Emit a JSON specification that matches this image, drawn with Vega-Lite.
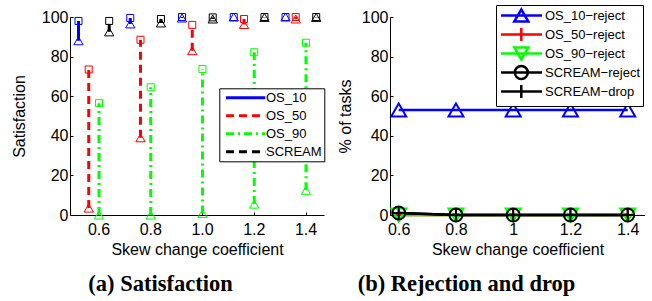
{
  "$schema": "https://vega.github.io/schema/vega-lite/v6.json",
  "background": "white",
  "padding": {"left": 11, "top": 4, "right": 0, "bottom": 0},
  "spacing": 66,
  "bounds": "flush",
  "resolve": {"scale": {"color": "independent", "shape": "independent", "strokeDash": "independent"}, "legend": {"color": "independent", "shape": "independent", "strokeDash": "independent"}},
  "config": {
    "view": {"stroke": null},
    "axis": {
      "domainColor": "black", "tickColor": "black", "labelColor": "black", "titleColor": "black",
      "labelFont": "Liberation Sans", "titleFont": "Liberation Sans",
      "labelFontSize": 16, "titleFontSize": 16, "titleFontWeight": "normal",
      "grid": false, "tickSize": -3, "labelOverlap": false
    },
    "axisX": {"labelPadding": 9, "titlePadding": 4, "labelAngle": 0},
    "axisY": {"labelPadding": 5, "titlePadding": 8}
  },
  "datasets": {
    "sat": [
      {"skew": 0.6, "series": "OS_10", "lo": 88, "hi": 98},
      {"skew": 0.6, "series": "OS_50", "lo": 3.5, "hi": 73.5},
      {"skew": 0.6, "series": "OS_90", "lo": 0, "hi": 56.5},
      {"skew": 0.6, "series": "SCREAM", "lo": 92.5, "hi": 98},
      {"skew": 0.8, "series": "OS_10", "lo": 96.5, "hi": 99.5},
      {"skew": 0.8, "series": "OS_50", "lo": 39, "hi": 88.5},
      {"skew": 0.8, "series": "OS_90", "lo": 0, "hi": 64.5},
      {"skew": 0.8, "series": "SCREAM", "lo": 97, "hi": 99},
      {"skew": 1.0, "series": "OS_10", "lo": 99.5, "hi": 100},
      {"skew": 1.0, "series": "OS_50", "lo": 83, "hi": 96},
      {"skew": 1.0, "series": "OS_90", "lo": 0.8, "hi": 73.7},
      {"skew": 1.0, "series": "SCREAM", "lo": 99, "hi": 99.8},
      {"skew": 1.2, "series": "OS_10", "lo": 100, "hi": 100},
      {"skew": 1.2, "series": "OS_50", "lo": 96.2, "hi": 99},
      {"skew": 1.2, "series": "OS_90", "lo": 5.5, "hi": 82.2},
      {"skew": 1.2, "series": "SCREAM", "lo": 99.8, "hi": 100},
      {"skew": 1.4, "series": "OS_10", "lo": 100, "hi": 100},
      {"skew": 1.4, "series": "OS_50", "lo": 99, "hi": 100},
      {"skew": 1.4, "series": "OS_90", "lo": 12.5, "hi": 87},
      {"skew": 1.4, "series": "SCREAM", "lo": 99.8, "hi": 100}
    ],
    "rej": [
      {"skew": 0.6, "series": "OS_10−reject", "pct": 53},
      {"skew": 0.8, "series": "OS_10−reject", "pct": 53},
      {"skew": 1.0, "series": "OS_10−reject", "pct": 53},
      {"skew": 1.2, "series": "OS_10−reject", "pct": 53},
      {"skew": 1.4, "series": "OS_10−reject", "pct": 53},
      {"skew": 0.6, "series": "OS_50−reject", "pct": 0},
      {"skew": 0.8, "series": "OS_50−reject", "pct": 0},
      {"skew": 1.0, "series": "OS_50−reject", "pct": 0},
      {"skew": 1.2, "series": "OS_50−reject", "pct": 0},
      {"skew": 1.4, "series": "OS_50−reject", "pct": 0},
      {"skew": 0.6, "series": "OS_90−reject", "pct": 0},
      {"skew": 0.8, "series": "OS_90−reject", "pct": 0},
      {"skew": 1.0, "series": "OS_90−reject", "pct": 0},
      {"skew": 1.2, "series": "OS_90−reject", "pct": 0},
      {"skew": 1.4, "series": "OS_90−reject", "pct": 0},
      {"skew": 0.6, "series": "SCREAM−reject", "pct": 1},
      {"skew": 0.8, "series": "SCREAM−reject", "pct": 0},
      {"skew": 1.0, "series": "SCREAM−reject", "pct": 0},
      {"skew": 1.2, "series": "SCREAM−reject", "pct": 0},
      {"skew": 1.4, "series": "SCREAM−reject", "pct": 0},
      {"skew": 0.6, "series": "SCREAM−drop", "pct": 1},
      {"skew": 0.8, "series": "SCREAM−drop", "pct": 0},
      {"skew": 1.0, "series": "SCREAM−drop", "pct": 0},
      {"skew": 1.2, "series": "SCREAM−drop", "pct": 0},
      {"skew": 1.4, "series": "SCREAM−drop", "pct": 0}
    ]
  },
  "hconcat": [
    {
      "width": 254,
      "height": 198,
      "data": {"name": "sat"},
      "title": {"text": "(a) Satisfaction", "orient": "bottom", "anchor": "middle", "dx": -36.5, "offset": 16, "font": "Liberation Serif", "fontSize": 22.5, "fontWeight": "bold", "color": "black"},
      "encoding": {
        "x": {"field": "skew", "type": "ordinal", "scale": {"type": "band", "domain": [0.6, 0.8, 1, 1.2, 1.4], "paddingInner": 0.5, "paddingOuter": 0.204, "align": 0.761}, "axis": {"labelExpr": "format(datum.value, '.1f')", "title": "Skew change coefficient"}},
        "xOffset": {"field": "series", "type": "nominal", "scale": {"type": "point", "domain": ["OS_10", "OS_50", "OS_90", "SCREAM"], "range": [-7.56, 23.14], "padding": 0}},
        "color": {"field": "series", "type": "nominal", "scale": {"domain": ["OS_10", "OS_50", "OS_90", "SCREAM"], "range": ["#0000ff", "#ff0000", "#00ff00", "#000000"]},
          "legend": {"orient": "none", "legendX": 149.3, "legendY": 71.3, "title": null, "padding": 2, "rowPadding": 3, "labelOffset": 29.7, "symbolOffset": 0, "symbolSize": 144, "symbolStrokeWidth": 3, "labelFontSize": 13, "labelFont": "Liberation Sans", "labelColor": "black", "strokeColor": "black", "fillColor": "white"}}
      },
      "layer": [
        {
          "transform": [{"filter": "false"}],
          "mark": {"type": "point", "filled": false, "strokeWidth": 3, "opacity": 1},
          "encoding": {
            "y": {"field": "lo", "type": "quantitative", "scale": {"domain": [0, 100], "nice": false}, "axis": {"values": [0, 20, 40, 60, 80, 100], "title": "Satisfaction", "titlePadding": 13.5}},
            "strokeDash": {"field": "series", "type": "nominal", "scale": {"domain": ["OS_10", "OS_50", "OS_90", "SCREAM"], "range": [[1, 0], [8, 5], [8, 4, 2, 4], [8, 5]]},
              "legend": {"orient": "none", "legendX": 149.3, "legendY": 71.3, "title": null, "padding": 2, "rowPadding": 3, "labelOffset": 29.7, "symbolOffset": 0, "symbolSize": 144, "symbolStrokeWidth": 3, "labelFontSize": 13, "labelFont": "Liberation Sans", "labelColor": "black", "strokeColor": "black", "fillColor": "white"}},
            "shape": {"field": "series", "type": "nominal", "scale": {"domain": ["OS_10", "OS_50", "OS_90", "SCREAM"], "range": ["M-0.47,0H6.08", "M-0.47,0H6.08", "M-0.47,0H6.08", "M-0.47,0H6.08"]},
              "legend": {"orient": "none", "legendX": 149.3, "legendY": 71.3, "title": null, "padding": 2, "rowPadding": 3, "labelOffset": 29.7, "symbolOffset": 0, "symbolSize": 144, "symbolStrokeWidth": 3, "labelFontSize": 13, "labelFont": "Liberation Sans", "labelColor": "black", "strokeColor": "black", "fillColor": "white"}}
          }
        },
        {
          "mark": {"type": "rule", "strokeWidth": 3},
          "encoding": {
            "y": {"field": "lo", "type": "quantitative", "scale": {"domain": [0, 100], "nice": false}, "axis": {"values": [0, 20, 40, 60, 80, 100], "title": "Satisfaction", "titlePadding": 13.5}},
            "y2": {"field": "hi"},
            "strokeDash": {"field": "series", "type": "nominal", "scale": {"domain": ["OS_10", "OS_50", "OS_90", "SCREAM"], "range": [[1, 0], [8, 5], [8, 4, 2, 4], [8, 5]]},
              "legend": {"orient": "none", "legendX": 149.3, "legendY": 71.3, "title": null, "padding": 2, "rowPadding": 3, "labelOffset": 29.7, "symbolOffset": 0, "symbolSize": 144, "symbolStrokeWidth": 3, "labelFontSize": 13, "labelFont": "Liberation Sans", "labelColor": "black", "strokeColor": "black", "fillColor": "white"}}
          }
        },
        {
          "mark": {"type": "point", "shape": "square", "size": 49, "strokeWidth": 1, "filled": false, "opacity": 1},
          "encoding": {
            "y": {"field": "hi", "type": "quantitative", "scale": {"domain": [0, 100], "nice": false}, "axis": {"values": [0, 20, 40, 60, 80, 100], "title": "Satisfaction", "titlePadding": 13.5}}
          }
        },
        {
          "mark": {"type": "point", "shape": "triangle-up", "size": 86, "strokeWidth": 1, "filled": false, "opacity": 1},
          "encoding": {
            "y": {"field": "lo", "type": "quantitative", "scale": {"domain": [0, 100], "nice": false}, "axis": {"values": [0, 20, 40, 60, 80, 100], "title": "Satisfaction", "titlePadding": 13.5}}
          }
        }
      ]
    },
    {
      "width": 255,
      "height": 198,
      "data": {"name": "rej"},
      "title": {"text": "(b) Rejection and drop", "orient": "bottom", "anchor": "middle", "dx": -51, "offset": 16, "font": "Liberation Serif", "fontSize": 22.5, "fontWeight": "bold", "color": "black"},
      "encoding": {
        "x": {"field": "skew", "type": "quantitative", "scale": {"domain": [0.5696, 1.4604], "nice": false, "zero": false}, "axis": {"values": [0.6, 0.8, 1.0, 1.2, 1.4], "format": "~g", "title": "Skew change coefficient"}},
        "y": {"field": "pct", "type": "quantitative", "scale": {"domain": [0, 100], "nice": false}, "axis": {"values": [0, 20, 40, 60, 80, 100], "title": "% of tasks"}}
      },
      "layer": [
        {
          "transform": [{"filter": "false"}],
          "mark": {"type": "point", "filled": false, "strokeWidth": 2.5, "opacity": 1},
          "encoding": {
            "shape": {"field": "series", "type": "nominal", "scale": {"domain": ["OS_10−reject", "OS_50−reject", "OS_90−reject", "SCREAM−reject", "SCREAM−drop"], "range": [
                "M-3.38,0H3.45M0,-1L1.17,1L-1.17,1Z",
                "M-3.38,0H3.45M0,-1.08V1.08",
                "M-3.38,0H3.45M0,1L1.17,-1L-1.17,-1Z",
                "M-3.38,0H3.45M1.08,0C1.08,0.5965,0.5965,1.08,0,1.08C-0.5965,1.08,-1.08,0.5965,-1.08,0C-1.08,-0.5965,-0.5965,-1.08,0,-1.08C0.5965,-1.08,1.08,-0.5965,1.08,0Z",
                "M-3.38,0H3.45M0,-1.08V1.08"]},
              "legend": {"orient": "none", "legendX": 106, "legendY": -12, "title": null, "padding": 3, "rowPadding": -4.5, "labelOffset": 16.2, "symbolOffset": 14.8, "symbolSize": 144, "symbolStrokeWidth": 2.5, "labelFontSize": 13, "labelFont": "Liberation Sans", "labelColor": "black", "strokeColor": "black", "fillColor": "white",
                "encode": {"symbols": {"update": {
                  "stroke": {"signal": "datum.value == 'OS_10−reject' ? '#0000ff' : datum.value == 'OS_50−reject' ? '#ff0000' : datum.value == 'OS_90−reject' ? '#00ff00' : '#000000'"},
                  "fill": {"value": "transparent"},
                  "size": {"value": 144},
                  "strokeWidth": {"value": 2.5}
                }}}}}
          }
        },
        {
          "mark": {"type": "line", "strokeWidth": 2.5},
          "encoding": {
            "color": {"field": "series", "type": "nominal", "scale": {"domain": ["OS_10−reject", "OS_50−reject", "OS_90−reject", "SCREAM−reject", "SCREAM−drop"], "range": ["#0000ff", "#ff0000", "#00ff00", "#000000", "#000000"]}, "legend": null}
          }
        },
        {"transform": [{"filter": "datum.series == 'OS_10−reject'"}], "mark": {"type": "point", "shape": "triangle-up", "size": 225, "strokeWidth": 2, "filled": false, "opacity": 1}, "encoding": {"color": {"value": "#0000ff"}}},
        {"transform": [{"filter": "datum.series == 'OS_50−reject'"}], "mark": {"type": "point", "shape": "M-1,0H1M0,-1V1", "size": 169, "strokeWidth": 2, "filled": false, "opacity": 1}, "encoding": {"color": {"value": "#ff0000"}}},
        {"transform": [{"filter": "datum.series == 'OS_90−reject'"}], "mark": {"type": "point", "shape": "triangle-down", "size": 225, "strokeWidth": 2, "filled": false, "opacity": 1}, "encoding": {"color": {"value": "#00ff00"}}},
        {"transform": [{"filter": "datum.series == 'SCREAM−reject'"}], "mark": {"type": "point", "shape": "circle", "size": 169, "strokeWidth": 2, "filled": false, "opacity": 1}, "encoding": {"color": {"value": "#000000"}}},
        {"transform": [{"filter": "datum.series == 'SCREAM−drop'"}], "mark": {"type": "point", "shape": "M-1,0H1M0,-1V1", "size": 169, "strokeWidth": 2, "filled": false, "opacity": 1}, "encoding": {"color": {"value": "#000000"}}}
      ]
    }
  ]
}
